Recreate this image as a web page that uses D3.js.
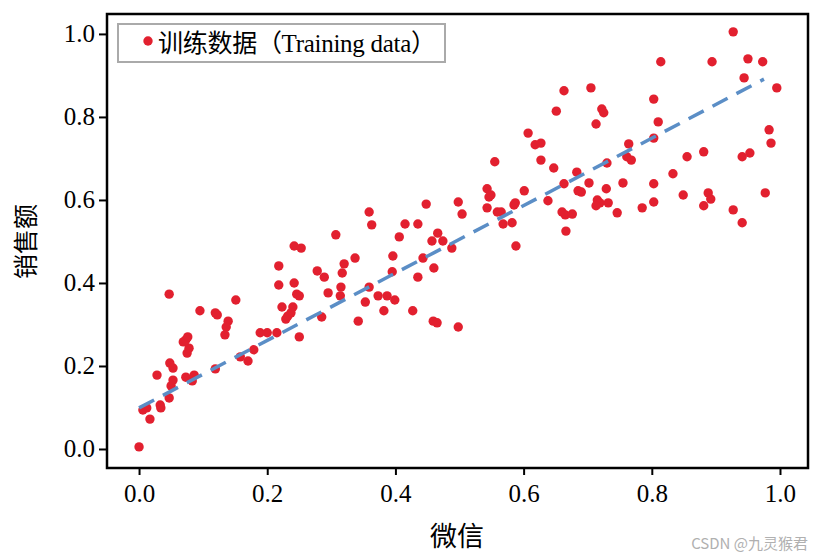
<!DOCTYPE html>
<html>
<head>
<meta charset="utf-8">
<script src="https://cdn.jsdelivr.net/npm/d3@7"></script>
<style>
  body { margin: 0; background: #fff; }
  text { font-family: 'Liberation Serif', 'Noto Sans CJK SC', serif; }
</style>
</head>
<body>
<div id="container"></div>
<script>
// training data (微信, 销售额)
const xValues = [
    0.000, 0.017, 0.006, 0.012, 0.033, 0.034, 0.047, 0.050, 0.053, 0.028,
    0.048, 0.053, 0.073, 0.083, 0.086, 0.119, 0.075, 0.078, 0.069, 0.073,
    0.076, 0.095, 0.119, 0.122, 0.139, 0.136, 0.134, 0.151, 0.158, 0.170,
    0.179, 0.189, 0.200, 0.215, 0.250, 0.223, 0.240, 0.237, 0.232, 0.229,
    0.285, 0.342, 0.047, 0.218, 0.218, 0.242, 0.253, 0.242, 0.246, 0.250,
    0.278, 0.289, 0.307, 0.320, 0.317, 0.337, 0.315, 0.314, 0.295, 0.359,
    0.363, 0.353, 0.359, 0.373, 0.387, 0.399, 0.382, 0.427, 0.396, 0.395,
    0.435, 0.443, 0.460, 0.406, 0.415, 0.435, 0.448, 0.466, 0.457, 0.474,
    0.488, 0.498, 0.504, 0.459, 0.465, 0.498, 0.555, 0.543, 0.549, 0.546,
    0.543, 0.559, 0.565, 0.568, 0.582, 0.588, 0.585, 0.587, 0.601, 0.607,
    0.618, 0.627, 0.627, 0.638, 0.647, 0.663, 0.660, 0.665, 0.676, 0.666,
    0.683, 0.685, 0.927, 0.814, 0.894, 0.950, 0.973, 0.944, 0.995, 0.663,
    0.705, 0.803, 0.651, 0.722, 0.725, 0.713, 0.810, 0.803, 0.983, 0.986,
    0.764, 0.761, 0.768, 0.730, 0.855, 0.881, 0.941, 0.953, 0.833, 0.702,
    0.690, 0.729, 0.755, 0.803, 0.715, 0.719, 0.713, 0.732, 0.746, 0.785,
    0.803, 0.849, 0.888, 0.892, 0.881, 0.927, 0.941, 0.977
];
const yValues = [
    0.005, 0.072, 0.094, 0.099, 0.106, 0.099, 0.123, 0.152, 0.166, 0.178,
    0.207, 0.195, 0.173, 0.164, 0.178, 0.193, 0.231, 0.243, 0.258, 0.263,
    0.270, 0.333, 0.328, 0.323, 0.308, 0.294, 0.275, 0.359, 0.222, 0.212,
    0.239, 0.280, 0.280, 0.280, 0.270, 0.342, 0.342, 0.328, 0.320, 0.313,
    0.318, 0.308, 0.373, 0.441, 0.395, 0.489, 0.484, 0.400, 0.373, 0.369,
    0.429, 0.414, 0.516, 0.446, 0.424, 0.460, 0.390, 0.369, 0.376, 0.571,
    0.540, 0.354, 0.390, 0.369, 0.369, 0.359, 0.333, 0.333, 0.465, 0.427,
    0.414, 0.460, 0.436, 0.511, 0.542, 0.542, 0.590, 0.520, 0.501, 0.501,
    0.484, 0.595, 0.566, 0.308, 0.304, 0.294, 0.692, 0.627, 0.612, 0.607,
    0.581, 0.571, 0.571, 0.542, 0.545, 0.489, 0.588, 0.593, 0.622, 0.761,
    0.733, 0.737, 0.696, 0.598, 0.677, 0.639, 0.571, 0.564, 0.566, 0.525,
    0.667, 0.622, 1.005, 0.933, 0.933, 0.940, 0.933, 0.894, 0.870, 0.863,
    0.870, 0.843, 0.814, 0.819, 0.810, 0.783, 0.788, 0.749, 0.769, 0.737,
    0.735, 0.704, 0.696, 0.689, 0.704, 0.716, 0.704, 0.713, 0.663, 0.641,
    0.619, 0.627, 0.641, 0.639, 0.600, 0.593, 0.586, 0.593, 0.569, 0.581,
    0.595, 0.612, 0.617, 0.602, 0.586, 0.576, 0.545, 0.617
];

// fitted line
const lineX = [0.0, 0.975];
const lineY = [0.099, 0.891];

const tickValues = [0.0, 0.2, 0.4, 0.6, 0.8, 1.0];

const legendLabel = '训练数据（Training data）';
const xTitle = '微信';
const yTitle = '销售额';

// chart dimensions
const w = 822;
const h = 560;
const margin = { top: 14, right: 14, bottom: 92, left: 107 };
const pw = w - margin.left - margin.right;
const ph = h - margin.top - margin.bottom;

const xScale = d3.scaleLinear()
                .domain([-0.05, 1.0437])
                .range([0, pw]);

const yScale = d3.scaleLinear()
                .domain([-0.0458, 1.048])
                .range([ph, 0]);

const svg = d3.select('#container')
                .append('svg')
                .attr('width', w)
                .attr('height', h);

const g = svg.append('g')
    .attr('transform', `translate(${margin.left}, ${margin.top})`);

// axes
const xAxis = d3.axisBottom(xScale)
    .tickValues(tickValues)
    .tickFormat(d3.format('.1f'))
    .tickSize(7)
    .tickPadding(9);
const yAxis = d3.axisLeft(yScale)
    .tickValues(tickValues)
    .tickFormat(d3.format('.1f'))
    .tickSize(8)
    .tickPadding(4);

const gx = g.append('g')
    .attr('transform', `translate(0, ${ph})`)
    .call(xAxis);
const gy = g.append('g')
    .call(yAxis);

[gx, gy].forEach(a => {
    a.select('.domain').remove();
    a.selectAll('line').attr('stroke', '#000').attr('stroke-width', 2);
    a.selectAll('text')
        .attr('fill', '#000')
        .style('font-size', '25px');
});

// points
const points = xValues.map((x, i) => [x, yValues[i]]);
g.append('g')
    .selectAll('circle')
    .data(points)
    .join('circle')
    .attr('cx', d => xScale(d[0]))
    .attr('cy', d => yScale(d[1]))
    .attr('r', 4.7)
    .attr('fill', '#e2202f');

// fitted line
const line = d3.line()
    .x(d => xScale(d[0]))
    .y(d => yScale(d[1]));
g.append('path')
    .datum(lineX.map((x, i) => [x, lineY[i]]))
    .attr('d', line)
    .attr('fill', 'none')
    .attr('stroke', '#5b8ec6')
    .attr('stroke-width', 3.5)
    .attr('stroke-dasharray', '17,10');

// frame
g.append('rect')
    .attr('width', pw)
    .attr('height', ph)
    .attr('fill', 'none')
    .attr('stroke', '#000')
    .attr('stroke-width', 2.5);

// legend
const lg = g.append('g').attr('transform', 'translate(11, 10)');
lg.append('rect')
    .attr('width', 327)
    .attr('height', 38)
    .attr('fill', '#fff')
    .attr('stroke', '#aaa')
    .attr('stroke-width', 2);
lg.append('circle')
    .attr('cx', 30)
    .attr('cy', 17)
    .attr('r', 4.7)
    .attr('fill', '#e2202f');
lg.append('text')
    .attr('x', 40)
    .attr('y', 28)
    .attr('textLength', 278)
    .attr('lengthAdjust', 'spacing')
    .style('font-size', '25px')
    .attr('fill', '#000')
    .text(legendLabel);

// axis titles
svg.append('text')
    .attr('x', 457)
    .attr('y', 546)
    .attr('text-anchor', 'middle')
    .style('font-size', '27px')
    .text(xTitle);

svg.append('text')
    .attr('transform', `translate(35, ${margin.top + yScale(0.5)}) rotate(-90)`)
    .attr('text-anchor', 'middle')
    .style('font-size', '25px')
    .text(yTitle);

// watermark
svg.append('text')
    .attr('x', 808)
    .attr('y', 549)
    .attr('text-anchor', 'end')
    .attr('fill', '#b0b0b0')
    .style('font-size', '15px')
    .style('font-family', "'Noto Sans CJK SC', sans-serif")
    .text('CSDN @九灵猴君');
</script>
</body>
</html>
